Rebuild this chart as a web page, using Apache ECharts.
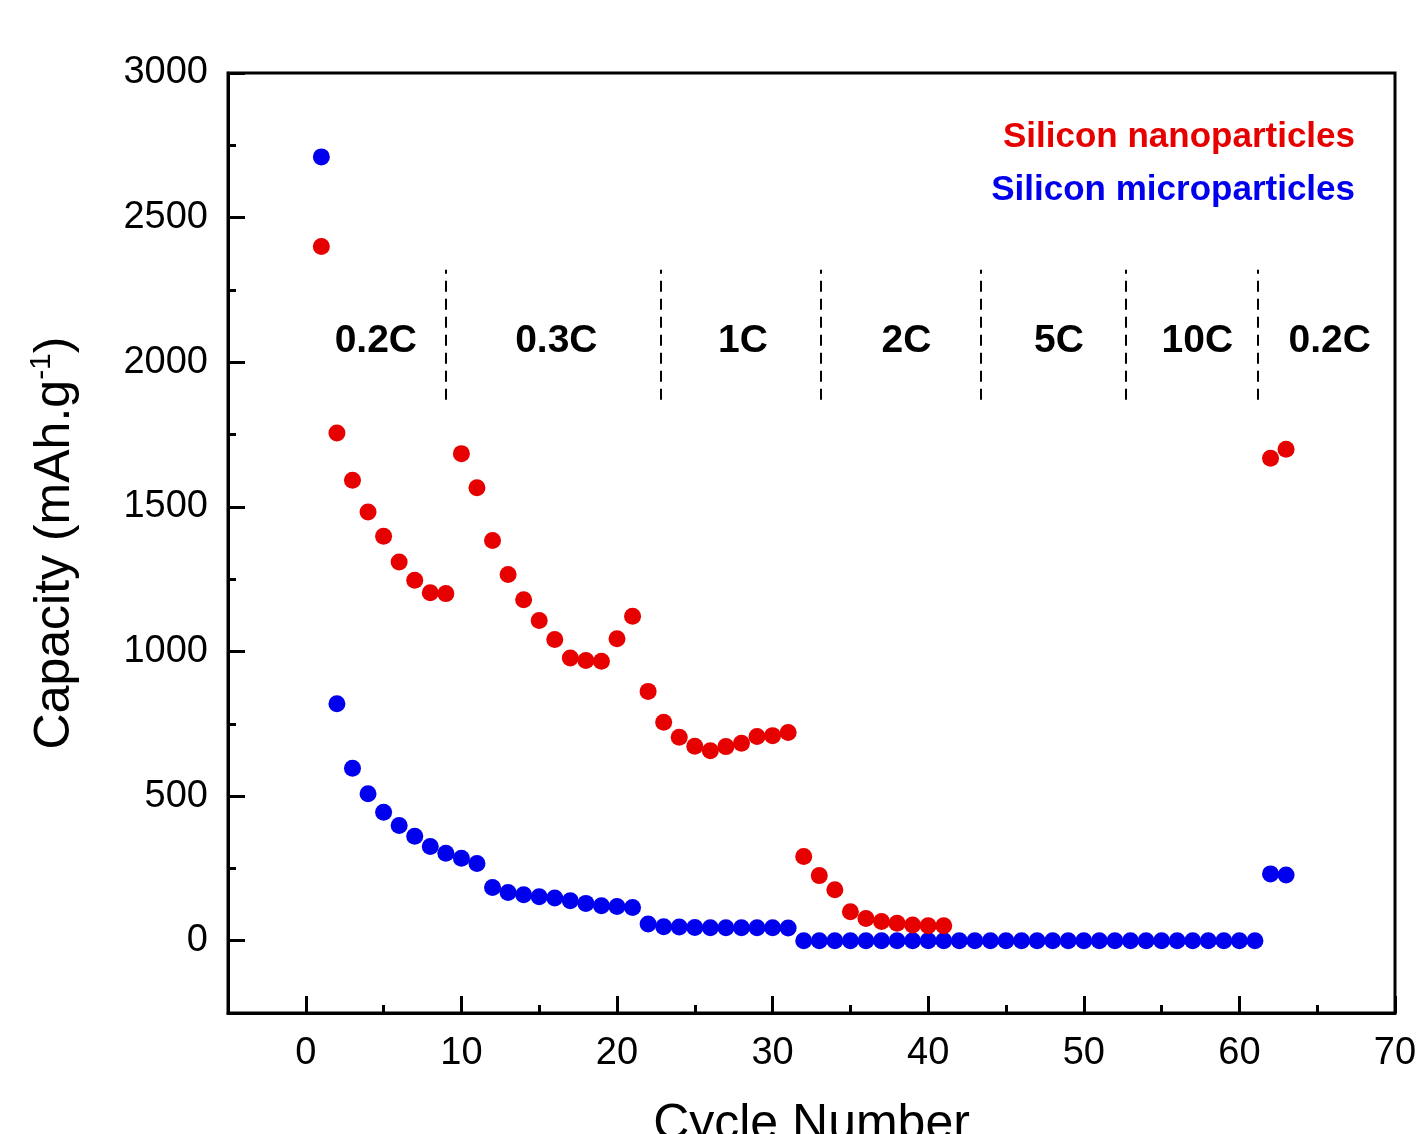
<!DOCTYPE html>
<html>
<head>
<meta charset="utf-8">
<script src="https://cdn.jsdelivr.net/npm/echarts@6/dist/echarts.min.js"></script>
<style>
    html, body { margin: 0; padding: 0; background: #fff; }
    #chart { width: 1421px; height: 1134px; }
</style>
</head>
<body>
<div id="chart"></div>
<script>
// 纳米颗粒 (红)
const nanoCycles = [1, 2, 3, 4, 5, 6, 7, 8, 9, 10, 11, 12, 13, 14, 15, 16, 17, 18, 19, 20, 21,
    22, 23, 24, 25, 26, 27, 28, 29, 30, 31, 32, 33, 34, 35, 36, 37, 38, 39, 40, 41, 62, 63];
const nanoCapacity = [2400, 1755, 1592, 1482, 1398, 1309, 1246, 1203, 1200, 1684, 1566, 1384, 1266, 1179, 1107, 1041, 977, 969, 966, 1044, 1122,
    862, 755, 703, 672, 657, 671, 683, 706, 709, 720, 291, 225, 176, 100, 77, 66, 60, 54, 52, 52, 1668, 1699];

// 微米颗粒 (蓝)
const microCycles = [1, 2, 3, 4, 5, 6, 7, 8, 9, 10, 11, 12, 13, 14, 15, 16, 17, 18, 19, 20, 21,
    22, 23, 24, 25, 26, 27, 28, 29, 30, 31,
    32, 33, 34, 35, 36, 37, 38, 39, 40, 41, 42, 43, 44, 45, 46, 47, 48, 49, 50, 51, 52, 53, 54, 55, 56, 57, 58, 59, 60, 61,
    62, 63];
const microCapacity = [2710, 819, 596, 508, 444, 398, 361, 326, 302, 285, 267, 184, 167, 159, 152, 148, 138, 129, 121, 118, 115,
    58, 48, 47, 46, 45, 45, 45, 45, 45, 44,
    0, 0, 0, 0, 0, 0, 0, 0, 0, 0, 0, 0, 0, 0, 0, 0, 0, 0, 0, 0, 0, 0, 0, 0, 0, 0, 0, 0, 0, 0,
    231, 227];

// 倍率分区
const rateBounds = [9, 22.8, 33.1, 43.4, 52.7, 61.2];
const boundLow = 1870;
const boundHigh = 2320;
const rateNames = ['0.2C', '0.3C', '1C', '2C', '5C', '10C', '0.2C'];
const rateLabelX = [4.5, 16.1, 28.1, 38.6, 48.4, 57.3, 65.8];
const rateLabelY = 2072;

const RED = '#e60000';
const BLUE = '#0000ee';
const FONT = 'Liberation Sans, Arial, sans-serif';

function pairs(xs, ys) {
    return xs.map(function(x, i) { return [x, ys[i]]; });
}

const chart = echarts.init(document.getElementById('chart'));

const option = {
    animation: false,
    backgroundColor: '#fff',
    grid: {
        left: 228,
        right: 26,
        top: 73,
        bottom: 121,
        outerBoundsMode: 'none',
        containLabel: false,
        show: true,
        borderColor: '#000',
        borderWidth: 3,
        backgroundColor: 'transparent'
    },
    xAxis: {
        type: 'value',
        min: -5,
        max: 70,
        minInterval: 10,
        maxInterval: 10,
        name: 'Cycle Number',
        nameLocation: 'middle',
        nameGap: 87,
        nameTextStyle: { fontFamily: FONT, fontSize: 50, color: '#000' },
        axisLine: { onZero: false, lineStyle: { color: '#000', width: 3 } },
        axisTick: { inside: true, length: 17, lineStyle: { color: '#000', width: 3 } },
        minorTick: { show: true, splitNumber: 2, length: 8, lineStyle: { color: '#000', width: 3 } },
        axisLabel: {
            showMinLabel: false, margin: 22, fontFamily: FONT, fontSize: 38, color: '#000',
            formatter: function(v) { return String(v); }
        },
        splitLine: { show: false }
    },
    yAxis: {
        type: 'value',
        min: -250,
        max: 3000,
        minInterval: 500,
        maxInterval: 500,
        name: 'Capacity (mAh.g{sup|-1})',
        nameLocation: 'middle',
        nameGap: 145,
        nameTextStyle: {
            fontFamily: FONT, fontSize: 50, color: '#000',
            rich: {
                sup: { fontFamily: FONT, fontSize: 30, color: '#000', verticalAlign: 'top', padding: [0, 0, 26, 0] }
            }
        },
        axisLine: { onZero: false, lineStyle: { color: '#000', width: 3 } },
        axisTick: { inside: true, length: 17, lineStyle: { color: '#000', width: 3 } },
        minorTick: { show: true, splitNumber: 2, length: 8, lineStyle: { color: '#000', width: 3 } },
        axisLabel: {
            showMinLabel: false, margin: 20, fontFamily: FONT, fontSize: 38, color: '#000',
            formatter: function(v) { return String(v); }
        },
        splitLine: { show: false }
    },
    graphic: [
        {
            type: 'text', right: 66, top: 120,
            style: { text: 'Silicon nanoparticles', fill: RED, font: 'bold 35px ' + FONT }
        },
        {
            type: 'text', right: 66, top: 173,
            style: { text: 'Silicon microparticles', fill: BLUE, font: 'bold 35px ' + FONT }
        }
    ],
    series: [
        {
            name: 'Silicon microparticles',
            type: 'scatter',
            symbol: 'circle',
            symbolSize: 17,
            itemStyle: { color: BLUE, opacity: 1 },
            data: pairs(microCycles, microCapacity),
            z: 3
        },
        {
            name: 'Silicon nanoparticles',
            type: 'scatter',
            symbol: 'circle',
            symbolSize: 17,
            itemStyle: { color: RED, opacity: 1 },
            data: pairs(nanoCycles, nanoCapacity),
            z: 4
        },
        {
            // 倍率标签与分隔虚线
            name: 'rates',
            type: 'scatter',
            symbolSize: 0,
            silent: true,
            itemStyle: { opacity: 1 },
            label: {
                show: true,
                position: 'inside',
                formatter: function(p) { return rateNames[p.dataIndex]; },
                fontFamily: FONT,
                fontSize: 39,
                fontWeight: 'bold',
                color: '#000'
            },
            data: rateLabelX.map(function(x) { return [x, rateLabelY]; }),
            markLine: {
                silent: true,
                symbol: 'none',
                label: { show: false },
                lineStyle: { color: '#000', width: 2, type: [11, 7] },
                data: rateBounds.map(function(x) {
                    return [{ coord: [x, boundLow] }, { coord: [x, boundHigh] }];
                })
            }
        }
    ]
};

chart.setOption(option);
</script>
</body>
</html>
